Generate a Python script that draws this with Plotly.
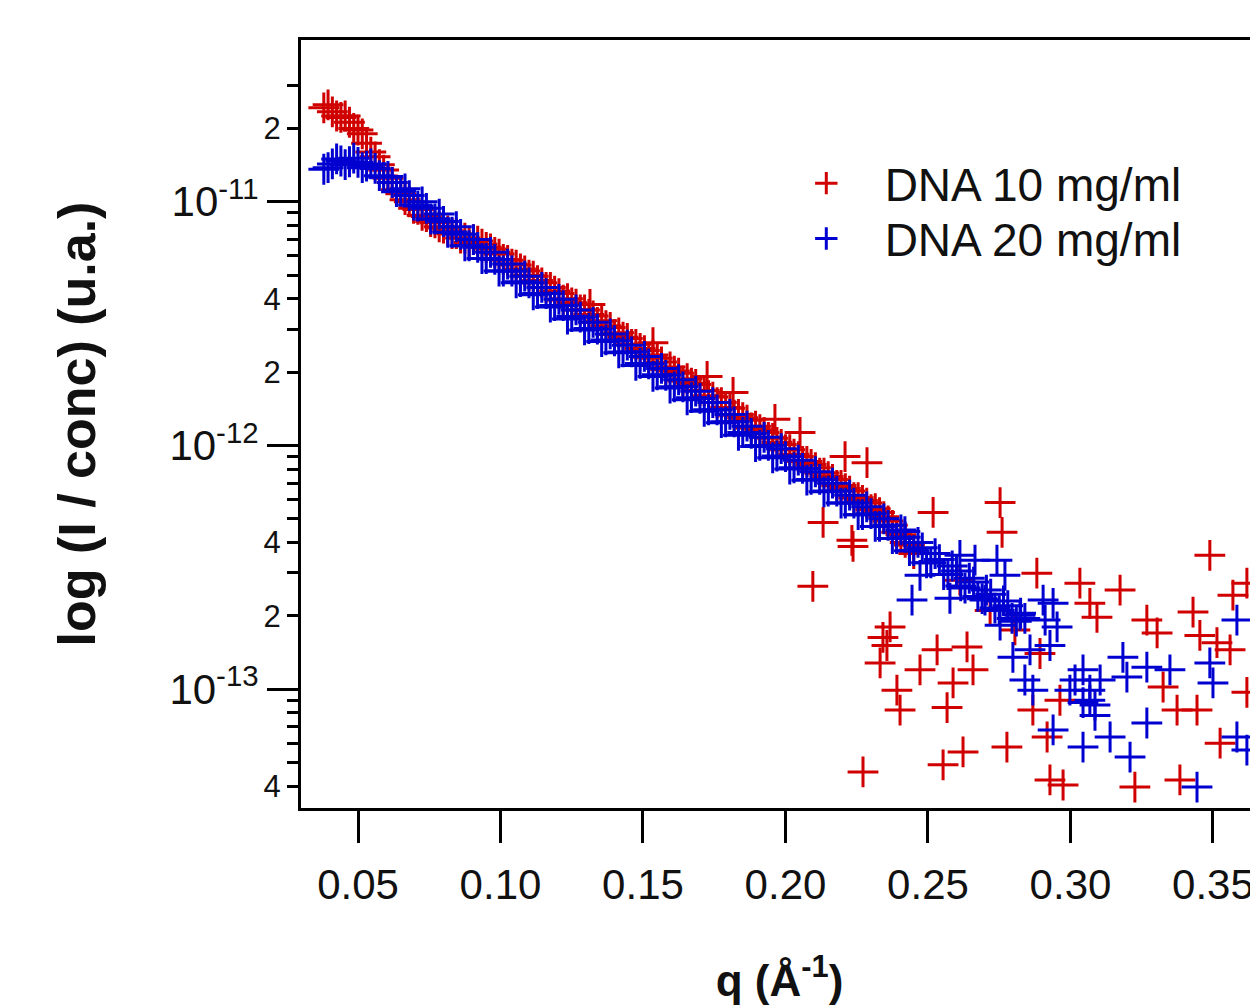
import plotly.graph_objects as go

# DNA 10 mg/ml (rojo): banda densa + puntos dispersos
q_10_banda = [0.038, 0.041, 0.044, 0.047, 0.050, 0.053, 0.056, 0.059, 0.062, 0.065,
              0.068, 0.071, 0.074, 0.077, 0.080, 0.083, 0.086, 0.089, 0.092, 0.095,
              0.098, 0.101, 0.104, 0.107, 0.110, 0.113, 0.116, 0.119, 0.122, 0.125,
              0.128, 0.131, 0.134, 0.137, 0.140, 0.143, 0.146, 0.149, 0.152, 0.155,
              0.158, 0.161, 0.164, 0.167, 0.170, 0.173, 0.176, 0.179, 0.182, 0.185,
              0.188, 0.191, 0.194, 0.197, 0.200, 0.203, 0.206, 0.209, 0.212, 0.215,
              0.218, 0.221, 0.224, 0.227, 0.230, 0.233, 0.236, 0.239, 0.242, 0.245]
i_10_banda = [2.43e-11, 2.34e-11, 2.22e-11, 2.12e-11, 1.97e-11, 1.74e-11, 1.53e-11, 1.35e-11, 1.20e-11, 1.08e-11,
              1.0e-11, 9.3e-12, 8.7e-12, 8.2e-12, 7.8e-12, 7.4e-12, 7.1e-12, 6.8e-12, 6.9e-12, 6.5e-12,
              6.2e-12, 5.8e-12, 5.55e-12, 5.3e-12, 5.0e-12, 4.75e-12, 4.45e-12, 4.3e-12, 3.95e-12, 3.85e-12,
              3.6e-12, 3.45e-12, 3.2e-12, 3.1e-12, 2.85e-12, 2.78e-12, 2.6e-12, 2.5e-12, 2.3e-12, 2.28e-12,
              2.05e-12, 2.02e-12, 1.84e-12, 1.80e-12, 1.68e-12, 1.6e-12, 1.5e-12, 1.43e-12, 1.33e-12, 1.3e-12,
              1.18e-12, 1.16e-12, 1.08e-12, 1.03e-12, 9.6e-13, 9.2e-13, 8.6e-13, 8.35e-13, 7.7e-13, 7.45e-13,
              6.85e-13, 6.65e-13, 6.1e-13, 5.95e-13, 5.45e-13, 5.3e-13, 4.9e-13, 4.4e-13, 4.0e-13, 3.6e-13]
q_10_medio = [0.0395, 0.0425, 0.0455, 0.0485, 0.0515, 0.0545, 0.0575, 0.0605, 0.0635, 0.0665,
              0.0695, 0.0725, 0.0755, 0.0785, 0.0815, 0.0845, 0.0875, 0.0905, 0.0935, 0.0965,
              0.0995, 0.1025, 0.1055, 0.1085, 0.1115, 0.1145, 0.1175, 0.1205, 0.1235, 0.1265,
              0.1295, 0.1325, 0.1355, 0.1385, 0.1415, 0.1445, 0.1475, 0.1505, 0.1535, 0.1565,
              0.1595, 0.1625, 0.1655, 0.1685, 0.1715, 0.1745, 0.1775, 0.1805, 0.1835, 0.1865,
              0.1895, 0.1925, 0.1955, 0.1985, 0.2015, 0.2045, 0.2075, 0.2105, 0.2135, 0.2165,
              0.2195, 0.2225, 0.2255, 0.2285, 0.2315, 0.2345, 0.2375, 0.2405, 0.2435]
i_10_medio = [2.50e-11, 2.25e-11, 2.25e-11, 2.0e-11, 1.9e-11, 1.6e-11, 1.42e-11, 1.25e-11, 1.12e-11, 1.02e-11,
              9.4e-12, 8.8e-12, 8.3e-12, 7.9e-12, 7.6e-12, 7.4e-12, 7.1e-12, 7.0e-12, 6.7e-12, 6.4e-12,
              6.1e-12, 5.75e-12, 5.5e-12, 5.2e-12, 4.95e-12, 4.65e-12, 4.45e-12, 4.2e-12, 4.0e-12, 3.8e-12,
              3.6e-12, 3.4e-12, 3.25e-12, 3.05e-12, 2.9e-12, 2.75e-12, 2.6e-12, 2.45e-12, 2.35e-12, 2.2e-12,
              2.1e-12, 1.98e-12, 1.88e-12, 1.78e-12, 1.68e-12, 1.58e-12, 1.5e-12, 1.42e-12, 1.34e-12, 1.27e-12,
              1.2e-12, 1.13e-12, 1.07e-12, 1.01e-12, 9.6e-13, 9.0e-13, 8.6e-13, 8.1e-13, 7.7e-13, 7.25e-13,
              6.85e-13, 6.5e-13, 6.1e-13, 5.8e-13, 5.5e-13, 5.1e-13, 4.7e-13, 4.3e-13, 3.9e-13]

q_10_disp = [0.1314, 0.1535, 0.1725, 0.1816, 0.1963, 0.2051, 0.2096, 0.2132, 0.2209, 0.2233,
             0.2237, 0.2272, 0.2286, 0.2332, 0.2342, 0.2356, 0.2367, 0.2391, 0.2402, 0.2472,
             0.2518, 0.2532, 0.2553, 0.2567, 0.2588, 0.2612, 0.2623, 0.2637, 0.2658, 0.2718,
             0.2753, 0.2760, 0.2777, 0.2805, 0.2868, 0.2882, 0.2893, 0.2918, 0.2928, 0.2963,
             0.2974, 0.3033, 0.3068, 0.3093, 0.3174, 0.3226, 0.3268, 0.3304, 0.3325, 0.3374,
             0.3384, 0.3430, 0.3444, 0.3454, 0.3489, 0.3514, 0.3525, 0.3560, 0.3570, 0.3619,
             0.3619]
i_10_disp = [3.79e-12, 2.64e-12, 1.92e-12, 1.65e-12, 1.28e-12, 1.13e-12, 2.64e-13, 4.83e-13, 9.0e-13, 4.08e-13,
             3.85e-13, 4.57e-14, 8.5e-13, 1.28e-13, 1.63e-13, 1.51e-13, 1.80e-13, 9.9e-14, 8.2e-14, 1.20e-13,
             5.31e-13, 1.45e-13, 4.89e-14, 8.4e-14, 1.06e-13, 2.8e-13, 5.52e-14, 1.49e-13, 1.20e-13, 2.1e-13,
             5.83e-13, 4.40e-13, 5.78e-14, 1.75e-13, 8.2e-14, 2.99e-13, 1.4e-13, 6.36e-14, 4.24e-14, 9.0e-14,
             4.04e-14, 2.72e-13, 2.25e-13, 1.97e-13, 2.55e-13, 3.96e-14, 1.92e-13, 1.70e-13, 1.02e-13, 8.2e-14,
             4.24e-14, 2.07e-13, 8.2e-14, 1.66e-13, 3.54e-13, 1.55e-13, 6.0e-14, 1.45e-13, 2.43e-13, 2.72e-13,
             9.7e-14]

# DNA 20 mg/ml (azul)
q_20_banda = [0.038, 0.041, 0.044, 0.047, 0.050, 0.053, 0.056, 0.059, 0.062, 0.065,
              0.068, 0.071, 0.074, 0.077, 0.080, 0.083, 0.086, 0.089, 0.092, 0.095,
              0.098, 0.101, 0.104, 0.107, 0.110, 0.113, 0.116, 0.119, 0.122, 0.125,
              0.128, 0.131, 0.134, 0.137, 0.140, 0.143, 0.146, 0.149, 0.152, 0.155,
              0.158, 0.161, 0.164, 0.167, 0.170, 0.173, 0.176, 0.179, 0.182, 0.185,
              0.188, 0.191, 0.194, 0.197, 0.200, 0.203, 0.206, 0.209, 0.212, 0.215,
              0.218, 0.221, 0.224, 0.227, 0.230, 0.233, 0.236, 0.239, 0.242, 0.245,
              0.248, 0.251, 0.254, 0.257, 0.260, 0.263, 0.266, 0.269, 0.272, 0.275,
              0.278, 0.281, 0.284]
i_20_banda = [1.36e-11, 1.43e-11, 1.47e-11, 1.46e-11, 1.45e-11, 1.40e-11, 1.37e-11, 1.26e-11, 1.20e-11, 1.11e-11,
              1.06e-11, 9.6e-12, 9.4e-12, 8.5e-12, 8.3e-12, 7.5e-12, 7.35e-12, 6.6e-12, 6.5e-12, 5.85e-12,
              5.8e-12, 5.2e-12, 5.2e-12, 4.7e-12, 4.65e-12, 4.2e-12, 4.2e-12, 3.75e-12, 3.75e-12, 3.38e-12,
              3.36e-12, 3.02e-12, 3.0e-12, 2.71e-12, 2.69e-12, 2.42e-12, 2.42e-12, 2.17e-12, 2.16e-12, 1.95e-12,
              1.94e-12, 1.74e-12, 1.74e-12, 1.57e-12, 1.56e-12, 1.40e-12, 1.40e-12, 1.25e-12, 1.25e-12, 1.13e-12,
              1.12e-12, 1.0e-12, 1.0e-12, 9.05e-13, 9.0e-13, 8.1e-13, 8.05e-13, 7.25e-13, 7.25e-13, 6.5e-13,
              6.5e-13, 5.8e-13, 5.8e-13, 5.2e-13, 5.25e-13, 4.65e-13, 4.7e-13, 4.15e-13, 4.2e-13, 3.7e-13,
              3.8e-13, 3.3e-13, 3.4e-13, 2.95e-13, 3.05e-13, 2.6e-13, 2.75e-13, 2.35e-13, 2.45e-13, 2.1e-13,
              2.2e-13, 1.9e-13, 1.95e-13]
q_20_medio = [0.0395, 0.0425, 0.0455, 0.0485, 0.0515, 0.0545, 0.0575, 0.0605, 0.0635, 0.0665,
              0.0695, 0.0725, 0.0755, 0.0785, 0.0815, 0.0845, 0.0875, 0.0905, 0.0935, 0.0965,
              0.0995, 0.1025, 0.1055, 0.1085, 0.1115, 0.1145, 0.1175, 0.1205, 0.1235, 0.1265,
              0.1295, 0.1325, 0.1355, 0.1385, 0.1415, 0.1445, 0.1475, 0.1505, 0.1535, 0.1565,
              0.1595, 0.1625, 0.1655, 0.1685, 0.1715, 0.1745, 0.1775, 0.1805, 0.1835, 0.1865,
              0.1895, 0.1925, 0.1955, 0.1985, 0.2015, 0.2045, 0.2075, 0.2105, 0.2135, 0.2165,
              0.2195, 0.2225, 0.2255, 0.2285, 0.2315, 0.2345, 0.2375, 0.2405, 0.2435, 0.2465,
              0.2495, 0.2525, 0.2555, 0.2585, 0.2615, 0.2645, 0.2675, 0.2705, 0.2735, 0.2765,
              0.2795, 0.2825]
i_20_medio = [1.38e-11, 1.50e-11, 1.42e-11, 1.51e-11, 1.38e-11, 1.43e-11, 1.28e-11, 1.27e-11, 1.10e-11, 1.13e-11,
              9.7e-12, 1.0e-11, 8.5e-12, 8.9e-12, 7.5e-12, 7.9e-12, 6.6e-12, 7.0e-12, 5.85e-12, 6.2e-12,
              5.2e-12, 5.55e-12, 4.65e-12, 4.95e-12, 4.15e-12, 4.45e-12, 3.7e-12, 3.98e-12, 3.3e-12, 3.6e-12,
              2.98e-12, 3.2e-12, 2.67e-12, 2.87e-12, 2.4e-12, 2.58e-12, 2.13e-12, 2.32e-12, 1.92e-12, 2.07e-12,
              1.72e-12, 1.86e-12, 1.54e-12, 1.67e-12, 1.38e-12, 1.50e-12, 1.24e-12, 1.34e-12, 1.10e-12, 1.2e-12,
              9.9e-13, 1.08e-12, 8.9e-13, 9.7e-13, 8.0e-13, 8.7e-13, 7.2e-13, 7.8e-13, 6.45e-13, 7.0e-13,
              5.8e-13, 6.25e-13, 5.2e-13, 5.6e-13, 4.65e-13, 5.0e-13, 4.15e-13, 4.5e-13, 3.7e-13, 4.0e-13,
              3.3e-13, 3.6e-13, 2.95e-13, 3.2e-13, 2.65e-13, 2.85e-13, 2.4e-13, 2.55e-13, 2.15e-13, 2.3e-13,
              1.95e-13, 2.05e-13]

q_20_disp = [0.2419, 0.2444, 0.2472, 0.2577, 0.2612, 0.2665, 0.2700, 0.2742, 0.2753, 0.2770,
             0.2798, 0.2823, 0.2840, 0.2858, 0.2868, 0.2904, 0.2911, 0.2928, 0.2939, 0.2939,
             0.2953, 0.2998, 0.3016, 0.3044, 0.3044, 0.3044, 0.3068, 0.3068, 0.3086, 0.3086,
             0.3104, 0.3139, 0.3184, 0.3198, 0.3209, 0.3268, 0.3268, 0.3349, 0.3444, 0.3489,
             0.3500, 0.3584, 0.3584, 0.3619]
i_20_disp = [4.43e-13, 2.32e-13, 2.93e-13, 2.36e-13, 3.54e-13, 3.38e-13, 2.32e-13, 3.38e-13, 1.83e-13, 2.93e-13,
             1.35e-13, 2.01e-13, 1.09e-13, 1.45e-13, 9.9e-14, 2.32e-13, 1.92e-13, 1.51e-13, 2.25e-13, 6.8e-14,
             1.80e-13, 9.9e-14, 1.09e-13, 1.20e-13, 8.8e-14, 5.78e-14, 9.0e-14, 9.9e-14, 7.8e-14, 8.6e-14,
             1.09e-13, 6.36e-14, 1.35e-13, 1.12e-13, 5.26e-14, 1.23e-13, 7.26e-14, 1.20e-13, 3.96e-14, 1.28e-13,
             1.06e-13, 1.92e-13, 6.36e-14, 5.62e-14]

# ejes
x_ticks = [0.05, 0.10, 0.15, 0.20, 0.25, 0.30, 0.35]
x_labels = ["0.05", "0.10", "0.15", "0.20", "0.25", "0.30", "0.35"]
y_decadas = [1e-13, 1e-12, 1e-11]
y_decadas_txt = ["10<sup>-13</sup>", "10<sup>-12</sup>", "10<sup>-11</sup>"]
y_menores = [4e-14, 2e-13, 4e-13, 2e-12, 4e-12, 2e-11]
y_menores_txt = ["4", "2", "4", "2", "4", "2"]
y_sin_texto = [5e-14, 6e-14, 7e-14, 8e-14, 9e-14, 3e-13, 5e-13, 6e-13, 7e-13, 8e-13, 9e-13,
               3e-12, 5e-12, 6e-12, 7e-12, 8e-12, 9e-12, 3e-11]

rojo = "#d00000"
azul = "#0000d0"
fuente = "Liberation Sans, Arial, sans-serif"
nb = "\u00a0\u00a0\u00a0"  # separa el texto de la cruz en la leyenda

fig = go.Figure()

fig.add_trace(go.Scatter(
    x=q_10_banda + q_10_medio + q_10_disp, y=i_10_banda + i_10_medio + i_10_disp,
    mode="markers", name=nb + "DNA 10 mg/ml", legend="legend",
    marker=dict(symbol="cross-thin-open", size=22, color=rojo,
                line=dict(width=3, color=rojo)),
))
fig.add_trace(go.Scatter(
    x=q_20_banda + q_20_medio + q_20_disp, y=i_20_banda + i_20_medio + i_20_disp,
    mode="markers", name=nb + "DNA 20 mg/ml", legend="legend2",
    marker=dict(symbol="cross-thin-open", size=22, color=azul,
                line=dict(width=3, color=azul)),
))
# eje auxiliar para las marcas menores
fig.add_trace(go.Scatter(x=[], y=[], yaxis="y2", showlegend=False, hoverinfo="skip"))

rango_y = [-13.488, -10.336]
leyenda = dict(xanchor="left", yanchor="top",
               font=dict(size=46, family=fuente, color="#111111"),
               bgcolor="rgba(0,0,0,0)")

# el body de la página tiene 8 px de margen: se compensa aquí
fig.update_layout(
    width=1250, height=1000,
    margin=dict(l=293, r=0, t=32, b=200),
    plot_bgcolor="white", paper_bgcolor="white",
    font=dict(family=fuente, color="#111111"),
    showlegend=True,
    legend=dict(x=0.528, y=0.861, **leyenda),
    legend2=dict(x=0.528, y=0.789, **leyenda),
    xaxis=dict(
        range=[0.0300, 0.3658], automargin=False,
        tickmode="array", tickvals=x_ticks, ticktext=x_labels,
        ticks="outside", ticklen=32, tickwidth=3, tickcolor="black",
        ticklabelstandoff=6,
        tickfont=dict(size=42),
        showline=True, linewidth=3, linecolor="black", mirror=True,
        showgrid=False, zeroline=False,
        title=dict(text="<b>q (Å<sup>-1</sup>)</b>", font=dict(size=44), standoff=58),
    ),
    yaxis=dict(
        type="log", range=rango_y, automargin=False,
        tickmode="array", tickvals=y_decadas, ticktext=y_decadas_txt,
        ticks="outside", ticklen=31, tickwidth=3, tickcolor="black",
        tickfont=dict(size=42),
        showline=True, linewidth=3, linecolor="black",
        showgrid=False, zeroline=False,
        title=dict(text="<b>log (I / conc) (u.a.)</b>", font=dict(size=52), standoff=58),
    ),
    yaxis2=dict(
        type="log", range=rango_y, overlaying="y", side="left", automargin=False,
        tickmode="array", tickvals=y_menores, ticktext=y_menores_txt,
        ticks="outside", ticklen=13, tickwidth=3, tickcolor="black",
        tickfont=dict(size=31),
        minor=dict(tickmode="array", tickvals=y_sin_texto, ticks="outside",
                   ticklen=13, tickwidth=3, tickcolor="black", showgrid=False),
        showline=False, showgrid=False, zeroline=False,
    ),
)

fig.write_html("out.html")
